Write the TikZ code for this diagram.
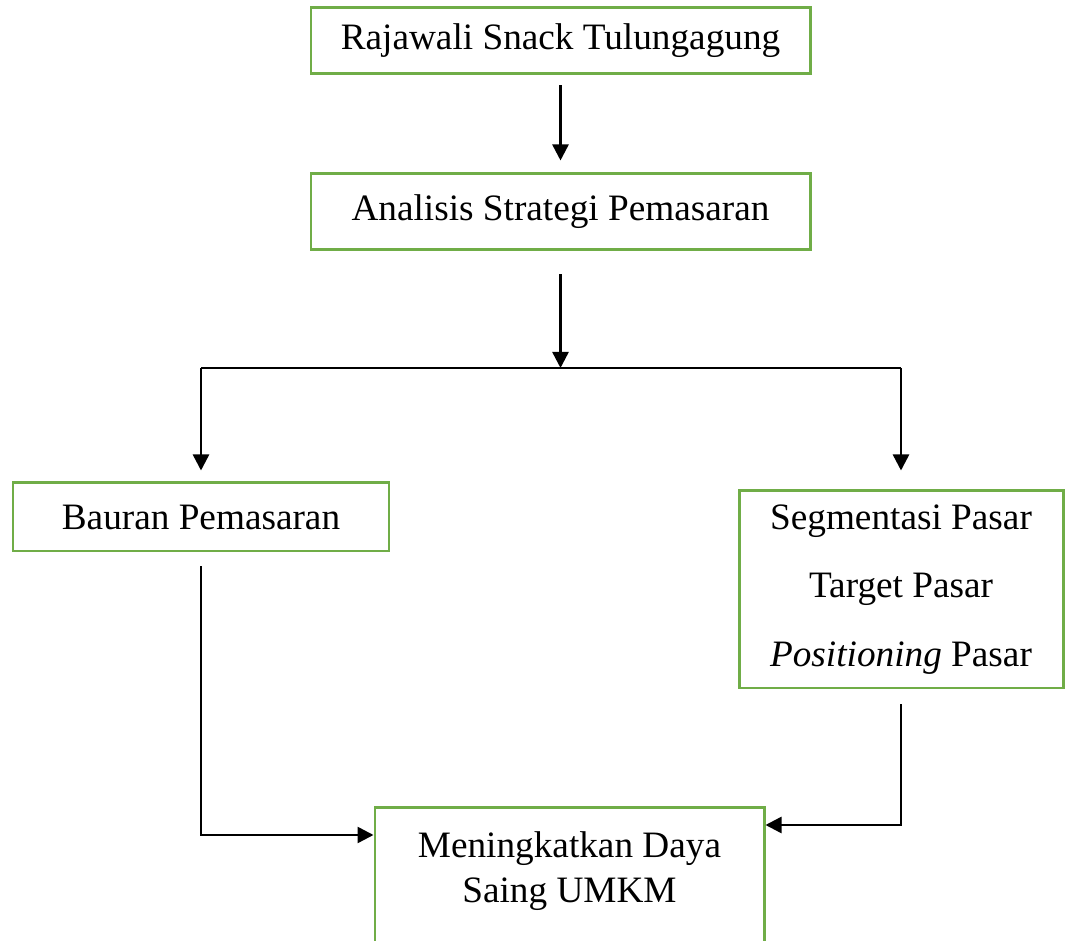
\documentclass[tikz,border=0pt]{standalone}
\usepackage{fontspec}
\setmainfont{Liberation Serif}
\usetikzlibrary{arrows.meta}
\definecolor{leaf}{HTML}{70AD47}
\definecolor{ink}{HTML}{000000}

\begin{document}
\begin{tikzpicture}[x=1cm,y=1cm,>={Triangle[length=.32cm,width=.32cm]},every node/.style={font=\fontsize{21.2}{25.6}\selectfont,text=ink},box/.style={draw=leaf,line width=1.7pt,align=center,inner sep=0pt},link/.style={->,ink,line width=1.4pt},rail/.style={ink,line width=.8pt}]
\clip (0,0) rectangle (21.3,18.82);

\node[box,minimum width=9.98cm,minimum height=1.32cm] (rajawali) at (11.21,18.0) {Rajawali Snack Tulungagung};
\node[box,minimum width=9.98cm,minimum height=1.52cm] (analisis) at (11.21,14.58) {Analisis Strategi Pemasaran};
\node[box,minimum width=7.52cm,minimum height=1.36cm] (bauran) at (4.02,8.48) {Bauran Pemasaran};
\node[box,minimum width=6.48cm,minimum height=3.94cm,font=\fontsize{21.2}{39}\selectfont] (stp) at (18.02,7.03) {\raisebox{-.1cm}{Segmentasi Pasar}\\\raisebox{-.1cm}{Target Pasar}\\\raisebox{-.1cm}{\textit{Positioning} Pasar}};
\node[box,minimum width=7.78cm,anchor=north,inner ysep=.48cm,text depth=2cm] (saing) at (11.39,2.7) {Meningkatkan Daya\\Saing UMKM};

\coordinate (split) at (11.21,11.46);
\coordinate (forkL) at (bauran.north |- split);
\coordinate (forkR) at (stp.north |- split);

\draw[link] ([yshift=-.2cm]rajawali.south) -- ([yshift=.24cm]analisis.north);
\draw[link] ([yshift=-.46cm]analisis.south) -- (split);
\draw[rail] (forkL) -- (forkR);
\draw[link] (forkL) -- ([yshift=.22cm]bauran.north);
\draw[link] (forkR) -- ([yshift=.38cm]stp.north);
\draw[link] ([yshift=-.28cm]bauran.south) |- ([yshift=-.58cm]saing.north west);
\draw[link] ([yshift=-.3cm]stp.south) |- ([yshift=-.38cm]saing.north east);

\end{tikzpicture}
\end{document}
